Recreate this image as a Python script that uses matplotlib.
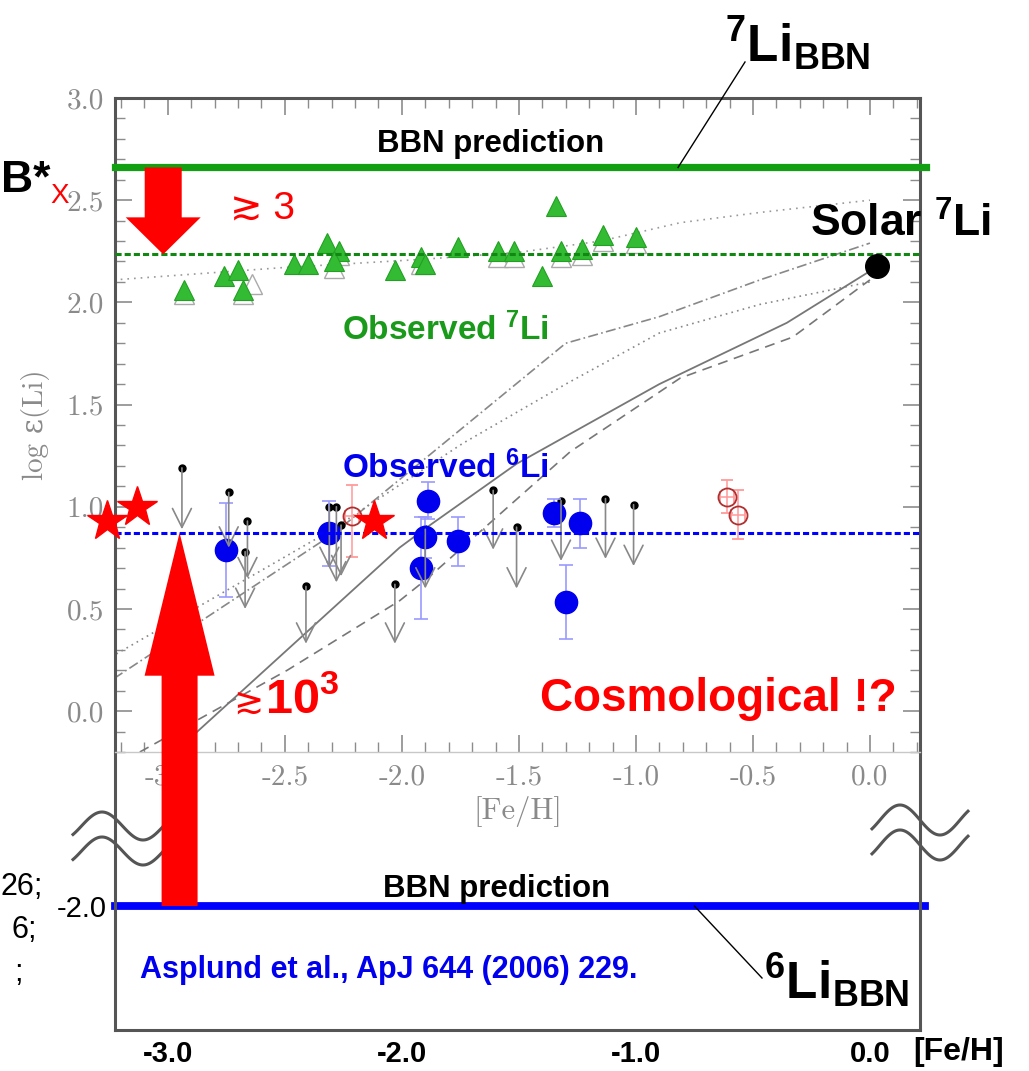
import numpy as np
import matplotlib
matplotlib.use("Agg")
import matplotlib.pyplot as plt
from matplotlib.lines import Line2D
from matplotlib.patches import Polygon
from matplotlib.ticker import MultipleLocator, FormatStrFormatter

W, H = 1029, 1071

plt.rcParams['font.family'] = ['Liberation Sans', 'DejaVu Sans']
plt.rcParams['mathtext.fontset'] = 'custom'
plt.rcParams['mathtext.rm'] = 'Liberation Sans:bold'
plt.rcParams['mathtext.it'] = 'Liberation Sans:bold'
plt.rcParams['mathtext.bf'] = 'Liberation Sans:bold'
plt.rcParams['mathtext.sf'] = 'Liberation Sans:bold'
plt.rcParams['mathtext.default'] = 'bf'

SERIF = ['cmr10', 'DejaVu Serif']

# 7Li plateau stars
li7_feh = [-2.93, -2.76, -2.70, -2.68, -2.46, -2.40, -2.32, -2.27, -2.29, -2.03, -1.92,
           -1.90, -1.76, -1.59, -1.52, -1.34, -1.32, -1.40, -1.23, -1.14, -1.00]
li7_abund = [2.06, 2.13, 2.16, 2.06, 2.19, 2.19, 2.29, 2.25, 2.20, 2.16, 2.22,
             2.19, 2.27, 2.25, 2.25, 2.47, 2.25, 2.13, 2.26, 2.33, 2.32]
# alternative 7Li values (open grey)
li7b_feh = [-2.93, -2.64, -2.68, -2.27, -2.29, -1.92, -1.59, -1.52, -1.32, -1.23, -1.14, -1.00]
li7b_abund = [2.04, 2.09, 2.04, 2.23, 2.17, 2.19, 2.22, 2.22, 2.22, 2.23, 2.30, 2.29]

# 6Li detections
li6_feh = [-2.75, -2.31, -1.89, -1.90, -1.92, -1.76, -1.35, -1.24, -1.30]
li6_abund = [0.79, 0.87, 1.03, 0.85, 0.70, 0.83, 0.97, 0.92, 0.535]
li6_err = [0.23, 0.16, 0.09, 0.10, 0.25, 0.12, 0.07, 0.12, 0.18]

# 6Li upper limits
lim_feh = [-2.94, -2.74, -2.66, -2.67, -2.31, -2.28, -2.26, -2.41, -2.03, -1.90,
           -1.61, -1.51, -1.32, -1.13, -1.01]
lim_top = [1.19, 1.07, 0.93, 0.78, 1.00, 1.00, 0.91, 0.61, 0.62, 0.89,
           1.08, 0.90, 1.03, 1.04, 1.01]
lim_end = [0.89, 0.80, 0.65, 0.50, 0.70, 0.63, 0.66, 0.33, 0.33, 0.60,
           0.79, 0.60, 0.735, 0.745, 0.71]

# other 6Li measurements
oth_feh = [-2.215, -0.61, -0.565]
oth_abund = [0.955, 1.05, 0.96]
oth_err_lo = [0.20, 0.08, 0.12]
oth_err_hi = [0.15, 0.08, 0.12]

star_feh = [-3.26, -3.13, -2.12]
star_abund = [0.93, 1.00, 0.93]

solar_feh = [0.03]
solar_li = [2.18]

bbn7 = 2.66
plateau7 = 2.235
plateau6 = 0.873
bbn6 = -2.0

# chemical evolution models
m1_x = [-3.23, -2.51, -1.92, -1.50, -1.15, -0.81, -0.47, 0.0]
m1_y = [2.11, 2.17, 2.21, 2.245, 2.30, 2.39, 2.44, 2.50]
m2_x = [-3.23, -2.29, -1.30, -0.90, -0.47, 0.0]
m2_y = [0.16, 0.87, 1.80, 1.93, 2.11, 2.29]
m3_x = [-3.22, -2.31, -1.74, -1.30, -0.90, -0.47, 0.0]
m3_y = [0.28, 0.88, 1.31, 1.60, 1.85, 1.99, 2.10]
m4_x = [-2.97, -2.01, -1.88, -1.51, -0.90, -0.355, 0.01]
m4_y = [-0.2, 0.80, 0.91, 1.21, 1.60, 1.90, 2.16]
m5_x = [-3.12, -2.49, -2.01, -1.89, -1.28, -0.81, -0.33, 0.0]
m5_y = [-0.2, 0.20, 0.54, 0.65, 1.27, 1.63, 1.83, 2.11]

xticks_top = [-3.0, -2.5, -2.0, -1.5, -1.0, -0.5, 0.0]
xticks_bot = [-3.0, -2.0, -1.0, 0.0]
xlabels_bot = ['-3.0', '-2.0', '-1.0', '0.0']

fig = plt.figure(figsize=(W / 100, H / 100), dpi=100)

def fx(px):
    return px / W

def fy(py):
    return 1 - py / H

axb = fig.add_axes([fx(115), fy(1030), 805 / W, 278 / H])
ax = fig.add_axes([fx(115), fy(752), 805 / W, 654 / H])
for a in (ax, axb):
    a.set_facecolor('none')
    a.set_xlim(-3.226, 0.214)
ax.set_ylim(-0.2, 3.0)
axb.set_ylim(-2.608, -1.245)

# upper panel frame and ticks
for s in ('left', 'top', 'right'):
    ax.spines[s].set_color('#555555')
    ax.spines[s].set_linewidth(2.2)
ax.spines['bottom'].set_color('#c8c8c8')
ax.spines['bottom'].set_linewidth(1.0)
ax.set_yticks(np.arange(0, 3.01, 0.5))
ax.yaxis.set_major_formatter(FormatStrFormatter('%.1f'))
ax.yaxis.set_minor_locator(MultipleLocator(0.1))
ax.set_xticks(xticks_top)
ax.xaxis.set_major_formatter(FormatStrFormatter('%.1f'))
ax.xaxis.set_minor_locator(MultipleLocator(0.1))
ax.tick_params(which='both', direction='in', top=True, right=True, color='#8c8c8c',
               labelcolor='#8a8a8a', labelsize=21, labelfontfamily=SERIF)
ax.tick_params(which='major', length=12, width=1.2)
ax.tick_params(which='minor', length=7, width=1.0)
ax.tick_params(axis='y', pad=8)
ax.tick_params(axis='x', pad=9)
ax.set_ylabel('log ε(Li)', color='#8a8a8a', fontsize=21, family=SERIF, labelpad=12)
ax.set_xlabel('[Fe/H]', color='#8a8a8a', fontsize=22, family=SERIF, labelpad=4)

# lower panel frame
axb.spines['top'].set_visible(False)
for s in ('left', 'right', 'bottom'):
    axb.spines[s].set_color('#555555')
    axb.spines[s].set_linewidth(2.2)
axb.set_yticks([bbn6])
axb.set_yticklabels(['-2.0'])
axb.set_xticks(xticks_bot)
axb.set_xticklabels(xlabels_bot, fontweight='bold')
axb.tick_params(length=0, labelsize=21, labelcolor='black')
axb.tick_params(axis='y', pad=6)
axb.tick_params(axis='x', pad=7)

# model curves
ax.plot(m1_x, m1_y, color='#999999', lw=1.2, ls=(0, (1, 3)))
ax.plot(m2_x, m2_y, color='#888888', lw=1.2, ls=(0, (6, 2, 1, 2)))
ax.plot(m3_x, m3_y, color='#888888', lw=1.2, ls=(0, (1, 2.5)))
ax.plot(m4_x, m4_y, color='#777777', lw=1.3, ls='-')
ax.plot(m5_x, m5_y, color='#777777', lw=1.2, ls=(0, (6, 4)))

# 7Li data
ax.plot(li7b_feh, li7b_abund, ls='none', marker='^', ms=15, mfc='white', mec='#aaaaaa', mew=1.0)
ax.plot(li7_feh, li7_abund, ls='none', marker='^', ms=15, mfc='#33bb33', mec='#22a022', mew=0.8)

# 6Li upper limits
for xv, yt, ye in zip(lim_feh, lim_top, lim_end):
    ax.annotate('', xy=(xv, ye), xytext=(xv, yt),
                arrowprops=dict(arrowstyle='->', color='#888888', lw=1.2,
                                mutation_scale=34, shrinkA=0, shrinkB=0))
ax.plot(lim_feh, lim_top, ls='none', marker='o', ms=5, color='black')

# 6Li detections and other measurements
ax.errorbar(li6_feh, li6_abund, yerr=li6_err, fmt='o', ms=16, color='#0000ee',
            ecolor='#9a9aff', elinewidth=1.2, capsize=5, capthick=1.2)
ax.errorbar(oth_feh, oth_abund, yerr=[oth_err_lo, oth_err_hi], xerr=0.03, fmt='o', ms=13,
            mfc='none', mec='#b03030', mew=1.3, ecolor='#ff9a9a', elinewidth=1.1,
            capsize=4, capthick=1.1)
ax.plot(star_feh, star_abund, ls='none', marker='*', ms=30, color='red', clip_on=False, zorder=5)
ax.plot(solar_feh, solar_li, ls='none', marker='o', ms=17, color='black', clip_on=False, zorder=5)

# BBN predictions and plateaus
ax.axhline(bbn7, xmin=0, xmax=1.008, color='#12a012', lw=5.2, clip_on=False, zorder=4)
ax.axhline(plateau7, color='#118811', lw=2.2, ls=(0, (2, 1)), zorder=4)
ax.axhline(plateau6, color='#0000ff', lw=2.2, ls=(0, (2, 1)), zorder=4)
axb.axhline(bbn6, xmin=0, xmax=1.006, color='#0000ff', lw=5.6, clip_on=False)

# text inside the panels
ax.text(-2.107, 2.735, 'BBN prediction', fontsize=22.5, fontweight='bold')
ax.text(-2.735, 2.412, '≳ 3', fontsize=28, color='red')
ax.text(-0.256, 2.319, 'Solar $^{7}$Li', fontsize=32, fontweight='bold', zorder=6)
ax.text(-2.256, 1.814, 'Observed $^{7}$Li', fontsize=24, fontweight='bold', color='#1a9a1a')
ax.text(-2.256, 1.142, 'Observed $^{6}$Li', fontsize=24, fontweight='bold', color='#0000ee')
ax.text(-2.722, -0.01, '≳', fontsize=26, color='red', family='DejaVu Sans', zorder=6)
ax.text(-2.585, -0.01, '10$^{3}$', fontsize=35, fontweight='bold', color='red', zorder=6)
ax.text(-1.41, 0.0, 'Cosmological !?', fontsize=33, fontweight='bold', color='red')
axb.text(-2.08, -1.956, 'BBN prediction', fontsize=22.5, fontweight='bold')
axb.text(-3.12, -2.353, 'Asplund et al., ApJ 644 (2006) 229.', fontsize=22,
         fontweight='bold', color='#0000ee')

# red arrows between prediction and observation
inv = fig.transFigure.inverted()

def big_arrow(ax0, y0, ax1, y1, xc, sw, hw, hl):
    x_d, y0_d = ax0.transData.transform((xc, y0))
    _, y1_d = ax1.transData.transform((xc, y1))
    d = np.sign(y1_d - y0_d)
    yb = y1_d - d * hl
    pts = [(x_d - sw, y0_d), (x_d - sw, yb), (x_d - hw, yb), (x_d, y1_d),
           (x_d + hw, yb), (x_d + sw, yb), (x_d + sw, y0_d)]
    fig.add_artist(Polygon(inv.transform(pts), closed=True, color='red', lw=0, zorder=10))

big_arrow(ax, bbn7, ax, plateau7, -3.02, 18.5, 37.5, 37)
big_arrow(axb, bbn6, ax, plateau6, -2.95, 18, 35, 143)

# labels of the BBN lines
p7 = inv.transform(ax.transData.transform((-0.82, bbn7)))
fig.add_artist(Line2D([p7[0], fx(745)], [p7[1], fy(62)], color='black', lw=1.0))
fig.text(fx(725), fy(62), '$^{7}$Li$_{BBN}$', fontsize=37, fontweight='bold')
p6 = inv.transform(axb.transData.transform((-0.75, bbn6)))
fig.add_artist(Line2D([p6[0], fx(762)], [p6[1], fy(978)], color='black', lw=1.0))
fig.text(fx(764), fy(1000), '$^{6}$Li$_{BBN}$', fontsize=37, fontweight='bold')

fig.text(fx(913), fy(1060), '[Fe/H]', fontsize=23, fontweight='bold', ha='left')

# axis break marks
for x0, x1, xp, per, mid, amp in ((73, 165, 102, 82, 826, 14), (872, 968, 900, 80, 820, 15)):
    xs = np.linspace(x0, x1, 80)
    for off in (0, 25):
        ys = mid + off - amp * np.cos(2 * np.pi * (xs - xp) / per)
        fig.add_artist(Line2D(fx(xs), fy(ys), color='#555555', lw=2.2))

# slide text continuing from the left edge
fig.text(fx(1), fy(192), 'B*', fontsize=32, fontweight='bold', ha='left')
fig.text(fx(50), fy(203), 'X', fontsize=20, color='red')
fig.text(fx(43), fy(887), '26;', fontsize=22, ha='right', va='center')
fig.text(fx(37), fy(930), '6;', fontsize=22, ha='right', va='center')
fig.text(fx(23), fy(973), ';', fontsize=22, ha='right', va='center')

fig.savefig('out.png', dpi=100)
